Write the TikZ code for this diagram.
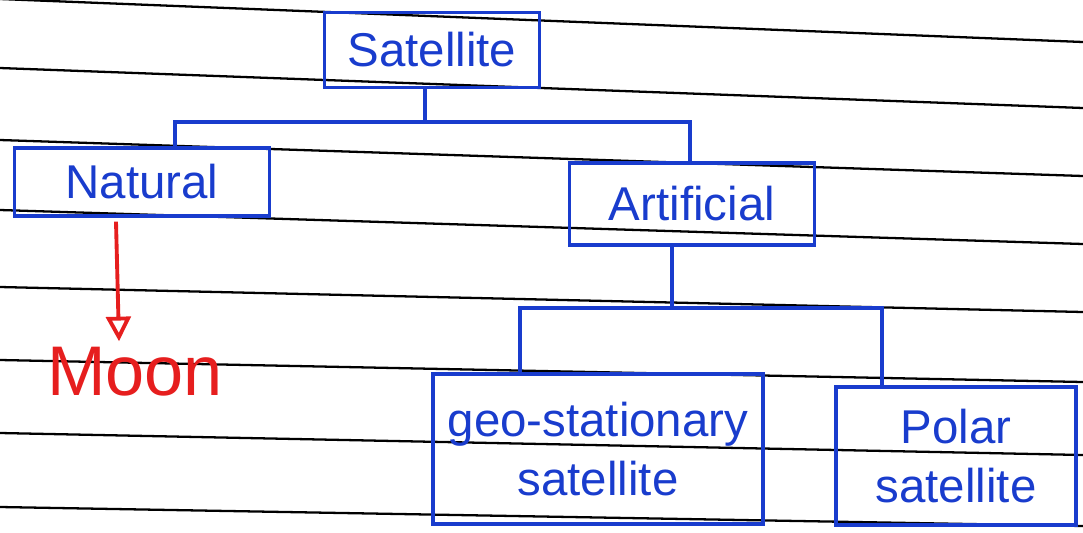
\documentclass[tikz,border=0pt]{standalone}
\usepackage{fontspec}
\setmainfont{Liberation Sans}
\usetikzlibrary{positioning,arrows.meta}

\definecolor{inkblue}{RGB}{25,60,205}
\definecolor{inkred}{RGB}{230,30,30}

\begin{document}
\begin{tikzpicture}[x=0.02cm,y=-0.02cm,
  boxstyle/.style={rectangle,draw=inkblue,line width=2.2pt,text=inkblue,align=center,anchor=center,font=\fontsize{27}{34}\selectfont},
  linkstyle/.style={draw=inkblue,line width=2.2pt},
  ruleline/.style={draw=black,line width=1.3pt}
]
\useasboundingbox (0,0) rectangle (1083,532);

% ruled paper
\foreach \l/\r in {-1/42,68/108,140/176,210/244,287/312,360/382,433/455,507/526}
  \draw [ruleline] (0,\l) -- (1083,\r);

\node [boxstyle,minimum width=4.3cm,minimum height=1.5cm] (sat) at (432,50) {Satellite} ;
\node [boxstyle,minimum width=5.1cm,minimum height=1.35cm] (nat) at (142,182) {Natural} ;
\node [boxstyle,minimum width=4.9cm,minimum height=1.65cm] (art) at (692,204) {Artificial} ;
\node [boxstyle,minimum width=6.6cm,minimum height=3.0cm] (geo) at (598,449) {geo-stationary\\satellite} ;
\node [boxstyle,minimum width=4.8cm,minimum height=2.75cm] (pol) at (956,456) {Polar\\satellite} ;

\node [text=inkred,font=\fontsize{40}{44}\selectfont] (moon) at (135,372) {Moon} ;

% tree links
\coordinate (j1) at (425,122) ;
\coordinate (nj) at (175,122) ;
\coordinate (aj) at (690,122) ;
\draw [linkstyle] (sat.south -| j1) -- (j1) ;
\draw [linkstyle] (nat.north -| nj) |- (aj) -- (art.north -| aj) ;

\coordinate (j2) at (672,308) ;
\coordinate (gj) at (520,308) ;
\coordinate (pj) at (882,308) ;
\draw [linkstyle] (art.south -| j2) -- (j2) ;
\draw [linkstyle] (geo.north -| gj) |- (pj) -- (pol.north -| pj) ;

\draw [draw=inkred,line width=2.2pt,-{Triangle[open,length=14pt,width=14pt]}] (nat.south -| 116,0) ++(0,4) -- (moon.north -| 119,0) ;

\end{tikzpicture}
\end{document}
